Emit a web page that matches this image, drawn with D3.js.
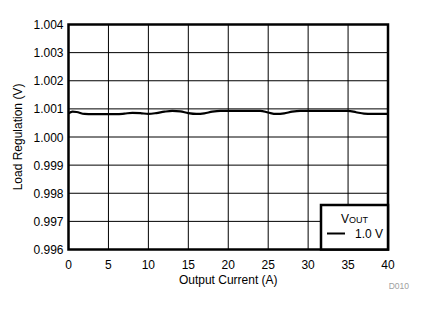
<!DOCTYPE html>
<html>
<head>
<meta charset="utf-8">
<script src="https://cdn.jsdelivr.net/npm/d3@7"></script>
<style>
  body { margin: 0; background: #fff; }
  text { font-family: "Liberation Sans", Arial, sans-serif; }
</style>
</head>
<body>
<div id="chart"></div>
<script>
// load regulation readings
const currents = [0, 0.5, 1, 2, 3, 4, 5, 6, 7, 8, 9, 10, 11, 12, 13, 14, 15, 16, 17, 18, 19, 20,
    21, 22, 23, 24, 25, 26, 27, 28, 29, 30, 31, 32, 33, 34, 35, 36, 37, 38, 39, 40];
const vout = [1.00084, 1.00090, 1.00089, 1.00082, 1.00081, 1.00081, 1.00081, 1.00081, 1.00083, 1.00086,
    1.00085, 1.00082, 1.00085, 1.00090, 1.00093, 1.00091, 1.00085, 1.00082, 1.00084, 1.00090, 1.00093,
    1.00093, 1.00093, 1.00093, 1.00093, 1.00093, 1.00087, 1.00082, 1.00084, 1.00090, 1.00093, 1.00093,
    1.00093, 1.00093, 1.00093, 1.00093, 1.00093, 1.00088, 1.00083, 1.00082, 1.00082, 1.00082];
const xTicks = [0, 5, 10, 15, 20, 25, 30, 35, 40];
const yTicks = [0.996, 0.997, 0.998, 0.999, 1.000, 1.001, 1.002, 1.003, 1.004];
const seriesName = "1.0 V";

const width = 425, height = 312;
const margin = {top: 24.5, right: 37, bottom: 62.5, left: 68.5};

const svg = d3.select("#chart").append("svg")
    .attr("width", width)
    .attr("height", height);

const x = d3.scaleLinear().domain([0, 40]).range([margin.left, width - margin.right]);
const y = d3.scaleLinear().domain([0.996, 1.004]).range([height - margin.bottom, margin.top]);

// gridlines
svg.append("g")
    .selectAll("line")
    .data(xTicks)
    .enter().append("line")
    .attr("x1", d => x(d)).attr("x2", d => x(d))
    .attr("y1", y(0.996)).attr("y2", y(1.004))
    .attr("stroke", "#000").attr("stroke-width", 1);

svg.append("g")
    .selectAll("line")
    .data(yTicks)
    .enter().append("line")
    .attr("x1", x(0)).attr("x2", x(40))
    .attr("y1", d => y(d)).attr("y2", d => y(d))
    .attr("stroke", "#000").attr("stroke-width", 1);

// tick labels
svg.append("g")
    .selectAll("text")
    .data(xTicks)
    .enter().append("text")
    .attr("x", d => x(d))
    .attr("y", y(0.996) + 19)
    .attr("text-anchor", "middle")
    .style("font-size", "12px")
    .text(d => d);

svg.append("g")
    .selectAll("text")
    .data(yTicks)
    .enter().append("text")
    .attr("x", x(0) - 5)
    .attr("y", d => y(d) + 4.5)
    .attr("text-anchor", "end")
    .style("font-size", "12px")
    .text(d => d3.format(".3f")(d));

// data line
const line = d3.line()
    .x((d, i) => x(currents[i]))
    .y(d => y(d))
    .curve(d3.curveMonotoneX);

svg.append("path")
    .datum(vout)
    .attr("d", line)
    .attr("fill", "none")
    .attr("stroke", "#000")
    .attr("stroke-width", 2.2);

// plot border
svg.append("rect")
    .attr("x", x(0)).attr("y", y(1.004))
    .attr("width", x(40) - x(0))
    .attr("height", y(0.996) - y(1.004))
    .attr("fill", "none")
    .attr("stroke", "#000")
    .attr("stroke-width", 2.5);

// legend
const lg = svg.append("g");
lg.append("rect")
    .attr("x", 321).attr("y", 205)
    .attr("width", x(40) - 321).attr("height", y(0.996) - 205)
    .attr("fill", "#fff")
    .attr("stroke", "#000")
    .attr("stroke-width", 2.5);

const vt = lg.append("text")
    .attr("x", 341).attr("y", 223)
    .style("font-size", "12px")
    .attr("fill", "#000");
vt.append("tspan").text("V");
vt.append("tspan").style("font-size", "9px").text("OUT");

lg.append("line")
    .attr("x1", 327).attr("x2", 345)
    .attr("y1", 233.5).attr("y2", 233.5)
    .attr("stroke", "#000").attr("stroke-width", 2);

lg.append("text")
    .attr("x", 355).attr("y", 238)
    .style("font-size", "12px")
    .text(seriesName);

// axis titles
svg.append("text")
    .attr("x", (x(0) + x(40)) / 2)
    .attr("y", 284)
    .attr("text-anchor", "middle")
    .style("font-size", "12px")
    .text("Output Current (A)");

svg.append("text")
    .attr("transform", `translate(22, ${(y(0.996) + y(1.004)) / 2}) rotate(-90)`)
    .attr("text-anchor", "middle")
    .style("font-size", "12px")
    .text("Load Regulation (V)");

svg.append("text")
    .attr("x", 409).attr("y", 289)
    .attr("text-anchor", "end")
    .attr("fill", "#a0a0a0")
    .style("font-size", "8.5px")
    .text("D010");
</script>
</body>
</html>
